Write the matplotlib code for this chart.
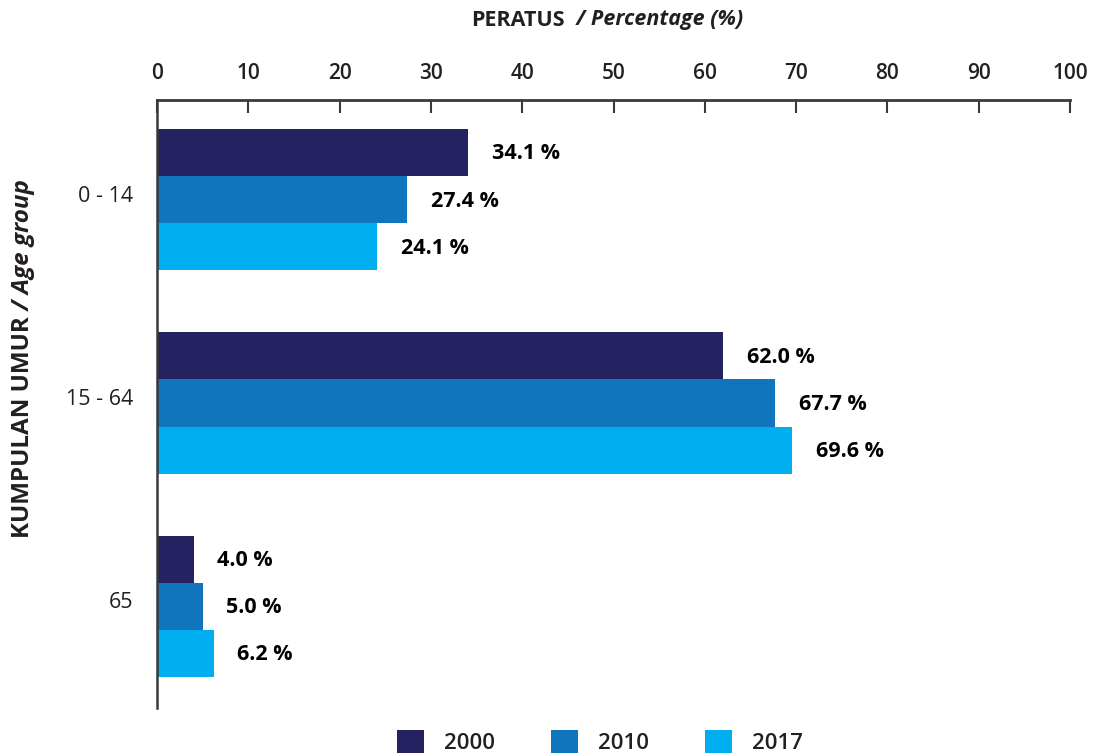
import matplotlib.pyplot as plt
import matplotlib.transforms as mtransforms
import numpy as np

plt.rcParams['font.family'] = ['Open Sans', 'DejaVu Sans']

groups = ['0 - 14', '15 - 64', '65']
years = ['2000', '2010', '2017']
v2000 = [34.1, 62.0, 4.0]
v2010 = [27.4, 67.7, 5.0]
v2017 = [24.1, 69.6, 6.2]
colors = ['#252262', '#1075bd', '#00aeef']
ink = '#231f20'

fig = plt.figure(figsize=(10.93, 7.56), dpi=100)
ax = fig.add_axes([157 / 1093, 1 - 708 / 756, 913 / 1093, 608 / 756])

y = np.arange(len(groups))
h = 0.232
for i, (vals, yr, c) in enumerate(zip([v2000, v2010, v2017], years, colors)):
    pos = y + (i - 1) * h
    ax.barh(pos, vals, height=h, color=c, label=yr)
    for p, v in zip(pos, vals):
        ax.annotate(f'{v:.1f} %', xy=(v, p), xytext=(17, -1), textcoords='offset points',
                    va='center', ha='left', fontsize=15.5, fontweight='bold', color='black')

ax.set_xlim(0, 100)
ax.set_ylim(2.5, -0.49)
ax.set_xticks(np.arange(0, 101, 10))
ax.xaxis.tick_top()
ax.tick_params(axis='x', direction='in', length=9, width=1.5, pad=11.5, colors='#3a3a3a',
               labelsize=15, labelcolor=ink)
for lab in ax.get_xticklabels():
    lab.set_fontweight('semibold')
ax.set_yticks(y)
ax.set_yticklabels(groups)
ax.tick_params(axis='y', length=0, pad=17, labelsize=15.5, labelcolor=ink)
shift = mtransforms.ScaledTranslation(0, 0.06, fig.dpi_scale_trans)
for lab in ax.get_yticklabels():
    lab.set_transform(lab.get_transform() + shift)

for s in ['right', 'bottom']:
    ax.spines[s].set_visible(False)
ax.spines['top'].set_linewidth(2)
ax.spines['top'].set_color('#3a3a3a')
ax.spines['left'].set_linewidth(1.8)
ax.spines['left'].set_color('#3a3a3a')

# top axis title
t1 = fig.text(565 / 1093, 1 - 20 / 756, 'PERATUS', ha='right', va='center',
              fontsize=15.5, fontweight='bold', color=ink)
ax.annotate('  / Percentage (%)', xy=(1, 0), xycoords=t1, va='bottom', ha='left',
            fontsize=15.5, fontweight='bold', style='italic', color=ink)

# left axis title
t2 = fig.text(23 / 1093, 1 - 538 / 756, 'KUMPULAN UMUR', rotation=90, ha='center', va='bottom',
              fontsize=17.5, fontweight='bold', color=ink)
ax.annotate(' / Age group', xy=(0.5, 1), xycoords=t2, va='bottom', ha='center', rotation=90,
            fontsize=17.5, fontweight='bold', style='italic', color=ink)

fig.legend(loc='center', bbox_to_anchor=(600 / 1093, 1 - 742 / 756), ncol=3, frameon=False,
           handlelength=1.22, handleheight=1.22, handletextpad=0.9,
           columnspacing=2.5, labelcolor=ink, prop={'weight': 'semibold', 'size': 16})

fig.savefig('out.png', dpi=100)
